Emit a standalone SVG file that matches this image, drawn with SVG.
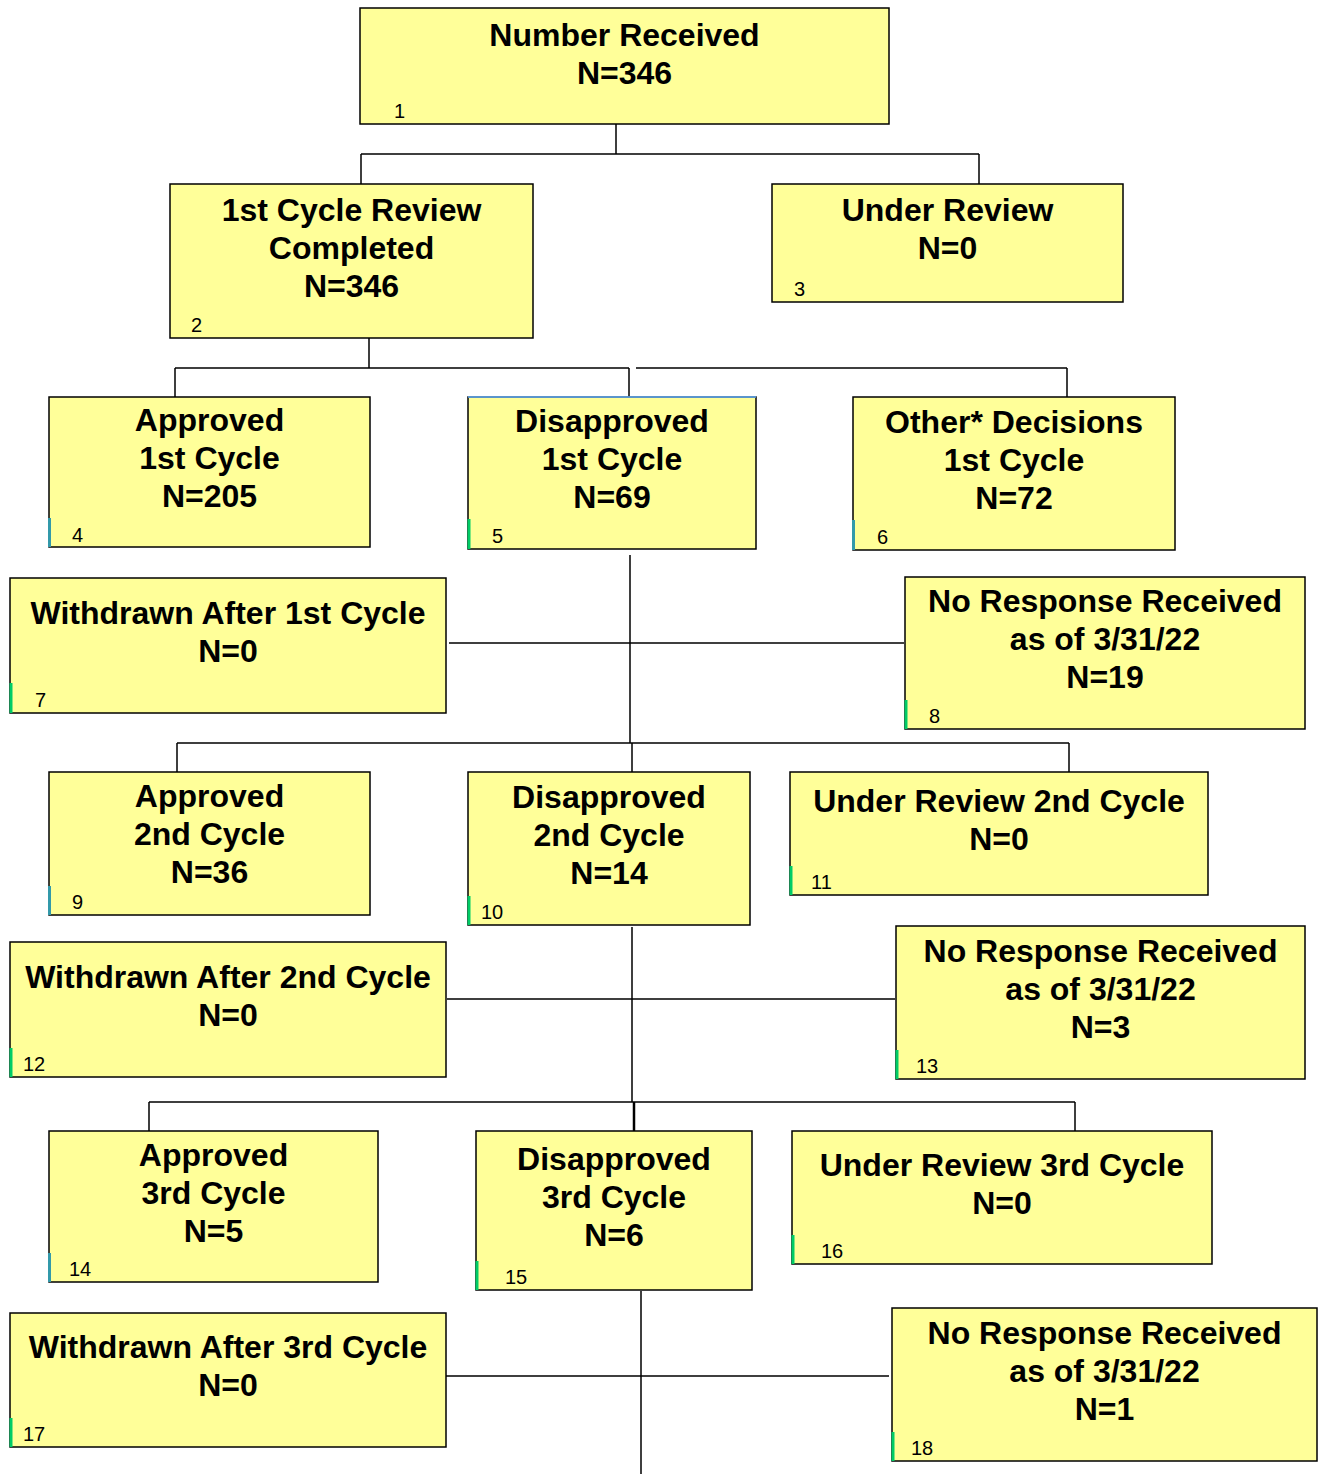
<svg xmlns="http://www.w3.org/2000/svg" width="1318" height="1474" viewBox="0 0 1318 1474">
<style>
.box{fill:#FFFF99;stroke:#000;stroke-width:1.5}
.t{font-family:"Liberation Sans",Arial,sans-serif;font-weight:bold;font-size:32px;text-anchor:middle;fill:#000}
.n{font-family:"Liberation Sans",Arial,sans-serif;font-size:20px;fill:#000}
.tick{stroke:#00CC66;stroke-width:3}
.c{fill:none;stroke:#000;stroke-width:1.5}
</style>
<rect width="1318" height="1474" fill="#fff"/>
<g id="connectors">
<path class="c" d="M616,124V154M361,154H979M361,154V184M979,154V184"/>
<path class="c" d="M369,338V368M175,368H629M636,368H1067M175,368V397M629,368V397M1067,368V397"/>
<path class="c" d="M630,555V743M449,643H904"/>
<path class="c" d="M177,743H1069M632,743V772M177,743V772M1069,743V772"/>
<path class="c" d="M632,927V1102M447,999H895"/>
<path class="c" d="M149,1102H1075M149,1102V1131M1075,1102V1131"/>
<path class="c" d="M634,1102V1131" style="stroke-width:2.5"/>
<path class="c" d="M641,1291V1474M446,1376H889"/>
</g>
<g id="n1"><rect class="box" x="360" y="8" width="529" height="116"/>
<text class="t" x="624.5" y="46">Number Received</text><text class="t" x="624.5" y="84">N=346</text><text class="n" x="394" y="118">1</text></g>
<g id="n2"><rect class="box" x="170" y="184" width="363" height="154"/>
<text class="t" x="351.5" y="221">1st Cycle Review</text><text class="t" x="351.5" y="259">Completed</text><text class="t" x="351.5" y="297">N=346</text><text class="n" x="191" y="332">2</text></g>
<g id="n3"><rect class="box" x="772" y="184" width="351" height="118"/>
<text class="t" x="947.5" y="221">Under Review</text><text class="t" x="947.5" y="259">N=0</text><text class="n" x="794" y="296">3</text></g>
<g id="n4"><rect class="box" x="49" y="397" width="321" height="150"/>
<text class="t" x="209.5" y="431">Approved</text><text class="t" x="209.5" y="469">1st Cycle</text><text class="t" x="209.5" y="507">N=205</text><text class="n" x="72" y="542">4</text>
<line class="tick" x1="49.5" y1="518" x2="49.5" y2="547" style="stroke:#3399AA"/></g>
<g id="n5"><rect class="box" x="468" y="397" width="288" height="152"/>
<line x1="468" y1="397" x2="756" y2="397" stroke="#66B3FF" stroke-width="1.5"/>
<text class="t" x="612" y="432">Disapproved</text><text class="t" x="612" y="470">1st Cycle</text><text class="t" x="612" y="508">N=69</text><text class="n" x="492" y="543">5</text>
<line class="tick" x1="469" y1="519" x2="469" y2="549"/></g>
<g id="n6"><rect class="box" x="853" y="397" width="322" height="153"/>
<text class="t" x="1014" y="433">Other* Decisions</text><text class="t" x="1014" y="471">1st Cycle</text><text class="t" x="1014" y="509">N=72</text><text class="n" x="877" y="544">6</text>
<line class="tick" x1="853.5" y1="520" x2="853.5" y2="550" style="stroke:#3399AA"/></g>
<g id="n7"><rect class="box" x="10" y="578" width="436" height="135"/>
<text class="t" x="228" y="624">Withdrawn After 1st Cycle</text><text class="t" x="228" y="662">N=0</text><text class="n" x="35" y="707">7</text>
<line class="tick" x1="11" y1="683" x2="11" y2="713"/></g>
<g id="n8"><rect class="box" x="905" y="577" width="400" height="152"/>
<text class="t" x="1105" y="612">No Response Received</text><text class="t" x="1105" y="650">as of 3/31/22</text><text class="t" x="1105" y="688">N=19</text><text class="n" x="929" y="723">8</text>
<line class="tick" x1="906" y1="700" x2="906" y2="729"/></g>
<g id="n9"><rect class="box" x="49" y="772" width="321" height="143"/>
<text class="t" x="209.5" y="807">Approved</text><text class="t" x="209.5" y="845">2nd Cycle</text><text class="t" x="209.5" y="883">N=36</text><text class="n" x="72" y="909">9</text>
<line class="tick" x1="49.5" y1="886" x2="49.5" y2="915" style="stroke:#3399AA"/></g>
<g id="n10"><rect class="box" x="468" y="772" width="282" height="153"/>
<text class="t" x="609" y="808">Disapproved</text><text class="t" x="609" y="846">2nd Cycle</text><text class="t" x="609" y="884">N=14</text><text class="n" x="481" y="919">10</text>
<line class="tick" x1="469" y1="896" x2="469" y2="925"/></g>
<g id="n11"><rect class="box" x="790" y="772" width="418" height="123"/>
<text class="t" x="999" y="812">Under Review 2nd Cycle</text><text class="t" x="999" y="850">N=0</text><text class="n" x="811" y="889">11</text>
<line class="tick" x1="791" y1="866" x2="791" y2="895"/></g>
<g id="n12"><rect class="box" x="10" y="942" width="436" height="135"/>
<text class="t" x="228" y="988">Withdrawn After 2nd Cycle</text><text class="t" x="228" y="1026">N=0</text><text class="n" x="23" y="1071">12</text>
<line class="tick" x1="11" y1="1048" x2="11" y2="1077"/></g>
<g id="n13"><rect class="box" x="896" y="926" width="409" height="153"/>
<text class="t" x="1100.5" y="962">No Response Received</text><text class="t" x="1100.5" y="1000">as of 3/31/22</text><text class="t" x="1100.5" y="1038">N=3</text><text class="n" x="916" y="1073">13</text>
<line class="tick" x1="897" y1="1050" x2="897" y2="1079"/></g>
<g id="n14"><rect class="box" x="49" y="1131" width="329" height="151"/>
<text class="t" x="213.5" y="1166">Approved</text><text class="t" x="213.5" y="1204">3rd Cycle</text><text class="t" x="213.5" y="1242">N=5</text><text class="n" x="69" y="1276">14</text>
<line class="tick" x1="49.5" y1="1253" x2="49.5" y2="1282" style="stroke:#3399AA"/></g>
<g id="n15"><rect class="box" x="476" y="1131" width="276" height="159"/>
<text class="t" x="614" y="1170">Disapproved</text><text class="t" x="614" y="1208">3rd Cycle</text><text class="t" x="614" y="1246">N=6</text><text class="n" x="505" y="1284">15</text>
<line class="tick" x1="477" y1="1261" x2="477" y2="1290"/></g>
<g id="n16"><rect class="box" x="792" y="1131" width="420" height="133"/>
<text class="t" x="1002" y="1176">Under Review 3rd Cycle</text><text class="t" x="1002" y="1214">N=0</text><text class="n" x="821" y="1258">16</text>
<line class="tick" x1="793" y1="1235" x2="793" y2="1264"/></g>
<g id="n17"><rect class="box" x="10" y="1313" width="436" height="134"/>
<text class="t" x="228" y="1358">Withdrawn After 3rd Cycle</text><text class="t" x="228" y="1396">N=0</text><text class="n" x="23" y="1441">17</text>
<line class="tick" x1="11" y1="1418" x2="11" y2="1447"/></g>
<g id="n18"><rect class="box" x="892" y="1308" width="425" height="153"/>
<text class="t" x="1104.5" y="1344">No Response Received</text><text class="t" x="1104.5" y="1382">as of 3/31/22</text><text class="t" x="1104.5" y="1420">N=1</text><text class="n" x="911" y="1455">18</text>
<line class="tick" x1="893" y1="1432" x2="893" y2="1461"/></g>
</svg>
